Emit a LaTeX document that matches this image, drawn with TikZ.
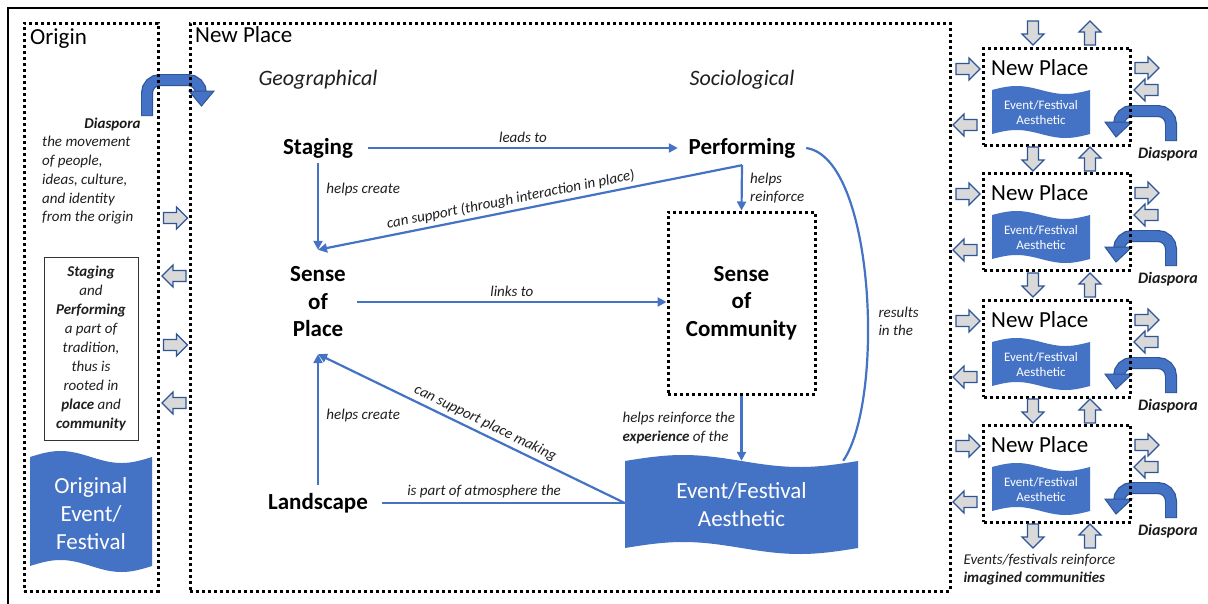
\documentclass[tikz,border=0pt]{standalone}
\usepackage{fontspec}
\setmainfont{Carlito}
\usetikzlibrary{arrows.meta}
\definecolor{wblue}{HTML}{4472C4}
\definecolor{dblue}{HTML}{2F5597}
\definecolor{agray}{HTML}{D9D9D9}
\newcommand\wavefill[5]{\fill[wblue] plot[domain=#1:#2,samples=50] (\x,{#3-#5*sin((\x-#1)/(#2-#1)*360)}) -- plot[domain=#2:#1,samples=50] (\x,{#4-#5*sin((\x-#1)/(#2-#1)*360)}) -- cycle;}
\begin{document}
\begin{tikzpicture}[x=1pt,y=-1pt,
  conn/.style={draw=wblue,line width=2.2pt},
  tipend/.style={-{Triangle[length=9pt,width=9pt]}},
  tipstart/.style={{Triangle[length=9pt,width=9pt]}-},
  dotbox/.style={draw=black,line width=3pt,dash pattern=on 3pt off 3pt},
  lab/.style={font=\fontsize{15}{18.5}\selectfont\itshape,text=black!88},
  big/.style={font=\fontsize{23}{27.5}\selectfont\bfseries,align=center,inner sep=0pt},
  hdr/.style={font=\fontsize{23}{27}\selectfont,inner sep=0pt},
  bi/.style={font=\fontsize{16}{19}\selectfont\bfseries\itshape,text=black!90},
  wtext/.style={text=white,align=center,inner sep=0pt},
  barrow/.pic={\draw[draw=dblue,fill=agray,line width=1.2pt,line join=miter]
     (-12,-5.5) -- (1,-5.5) -- (1,-11) -- (12,0) -- (1,11) -- (1,5.5) -- (-12,5.5) -- cycle;},
  uturnline/.style={line width=#1,rounded corners=13pt},
]
\useasboundingbox (0,0) rectangle (1208,603);
\fill[white] (0,0) rectangle (1208,603);
% outer frame
\draw[line width=2.2pt] (8,620) -- (8,8) -- (1220,8);

% ---------- Origin diaspora u-turn arrow
\draw[dblue,uturnline=12pt] (147,116) -- (147,80) -- (201,80) -- (201,93);
\draw[wblue,uturnline=9.6pt] (147,115.4) -- (147,80) -- (201,80) -- (201,93);
\filldraw[fill=wblue,draw=dblue,line width=1pt] (189,91) -- (214,91) -- (201.5,106) -- cycle;

% ---------- dotted frames
\node[dotbox,minimum width=134pt,minimum height=568pt,inner sep=0pt] (originbox) at (91,307) {};
\node[dotbox,minimum width=760pt,minimum height=568pt,inner sep=0pt] (npbox) at (570,307) {};
\node[hdr,anchor=base west] (originlab) at (30,44) {Origin};
\node[hdr,anchor=base west] (nplab) at (195,42) {New Place};

% ---------- Origin column
\node[bi,anchor=east,font=\fontsize{15}{18.5}\selectfont\bfseries\itshape] (dia0) at (144,124) {Diaspora};
\node[lab,align=left,anchor=west,font=\fontsize{15}{18.75}\selectfont\itshape] (diatext) at (38.7,180.5)
  {the movement\\of people,\\ideas, culture,\\and identity\\from the origin};
\node[draw=black!80,line width=0.8pt,minimum width=94pt,minimum height=183pt,align=center,
      font=\fontsize{15}{19}\selectfont\itshape,text=black!88,inner sep=0pt] (obox) at (91,348.5)
  {\textbf{Staging}\\and\\\textbf{Performing}\\a part of\\tradition,\\thus is\\rooted in\\\textbf{place} and\\\textbf{community}};
\wavefill{30}{152}{457}{566}{6}
\node[wtext,font=\fontsize{23}{28}\selectfont] (orig) at (91,514) {Original\\Event/\\Festival};

\pic at (175.5,218) {barrow};
\pic[rotate=180] at (174,276) {barrow};
\pic at (175.5,345) {barrow};
\pic[rotate=180] at (174,403) {barrow};

% ---------- New Place main diagram
\node[font=\fontsize{22}{26}\selectfont\itshape,text=black!88] (geo) at (318,80) {Geographical};
\node[font=\fontsize{22}{26}\selectfont\itshape,text=black!88] (soci) at (742,80) {Sociological};

\node[big,minimum width=100pt,minimum height=30pt] (stag) at (318,148) {Staging};
\node[big,minimum width=128pt,minimum height=34pt] (perf) at (742,148) {Performing};
\node[big,minimum width=78pt,minimum height=104pt] (sop) at (318,302) {Sense\\of\\Place};
\node[big,dotbox,minimum width=147pt,minimum height=182pt] (soc) at (741.5,303) {Sense\\of\\Community};
\node[big,minimum width=128pt,minimum height=36pt] (land) at (318,503) {Landscape};

\wavefill{625}{858}{461}{548}{6}
\node[wtext,font=\fontsize{23}{28}\selectfont,minimum width=233pt,minimum height=88pt] (ev) at (741.5,505) {Event/Festival\\Aesthetic};

\draw[conn,tipend] (stag.east) -- node[lab,above=1pt] {leads to} (perf.west);
\draw[conn,tipend] (stag.south) -- node[lab,right=4pt,pos=0.3] {helps create} (sop.north);
\draw[conn,tipstart] (sop.north) -- node[lab,sloped,above=0pt,pos=0.46] {can support (through interaction in place)} (perf.south);
\draw[conn,tipend] (perf.south) -- node[lab,right=4pt,align=left,font=\fontsize{15}{18}\selectfont\itshape] {helps\\reinforce} (soc.north);
\draw[conn,tipend] (sop.east) -- node[lab,above=1pt] {links to} (sop.east -| soc.west);
\draw[conn,tipend] (soc.south) -- node[lab,left=2pt,align=left,font=\fontsize{15}{19}\selectfont\itshape] {helps reinforce the\\\textbf{experience} of the} (ev.north);
\draw[conn] (perf.east) .. controls (875,158) and (885,400) .. ([xshift=-15pt]ev.north east);
\node[lab,align=left,anchor=west,font=\fontsize{15}{18}\selectfont\itshape] (resl) at (875,321) {results\\in the};
\draw[conn,tipend] (land.north) -- node[lab,right=4pt,pos=0.53] {helps create} (sop.south);
\draw[conn] (land.east) -- node[lab,above=1pt,pos=0.42] {is part of atmosphere the} (land.east -| ev.west);
\draw[conn,tipstart] (sop.south) -- node[lab,sloped,above=0pt,pos=0.53] {can support place making} (land.east -| ev.west);

% ---------- Right column
\foreach \T/\i in {48/1,173/2,300/3,425/4}{
  \draw[dblue,uturnline=12pt] (1171,{\T+93}) -- (1171,{\T+63}) -- (1119,{\T+63}) -- (1119,{\T+78});
  \draw[wblue,uturnline=9.6pt] (1171,{\T+92.4}) -- (1171,{\T+63}) -- (1119,{\T+63}) -- (1119,{\T+78});
  \filldraw[fill=wblue,draw=dblue,line width=1pt] (1105,{\T+74}) -- (1132,{\T+74}) -- (1116,{\T+89}) -- cycle;
  \node[dotbox,minimum width=147pt,minimum height=97pt,inner sep=0pt] (rb\i) at (1057,{\T+48.5}) {};
  \node[hdr,anchor=base west] (rnp\i) at (991,{\T+27}) {New Place};
  \wavefill{992}{1090}{\T+42}{\T+86}{4}
  \node[wtext,font=\fontsize{13}{15}\selectfont] (rev\i) at (1041,{\T+64.5}) {Event/Festival\\Aesthetic};
  \node[bi] (rdia\i) at (1168,{\T+106}) {Diaspora};
  \pic at (968,{\T+21}) {barrow};
  \pic[rotate=180] at (965,{\T+77}) {barrow};
  \pic at (1147,{\T+20}) {barrow};
  \pic[rotate=180] at (1146,{\T+42}) {barrow};
}
\foreach \yy in {33,159,285,411,536}{
  \pic[rotate=-90] at (1033,\yy) {barrow};
  \pic[rotate=90] at (1090,\yy) {barrow};
}
\node[lab,align=left,anchor=west,font=\fontsize{15}{18}\selectfont\itshape] (evlab) at (960,570)
  {Events/festivals reinforce\\\textbf{imagined communities}};
\end{tikzpicture}
\end{document}
